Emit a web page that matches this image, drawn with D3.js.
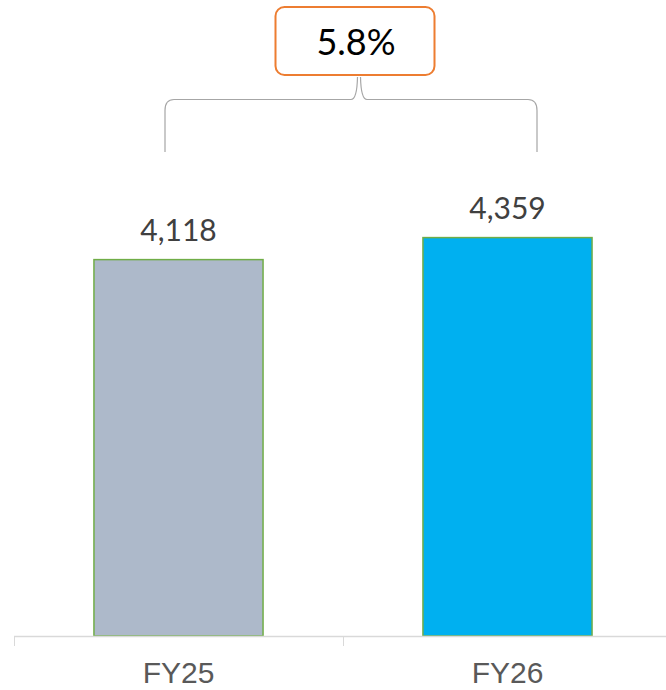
<!DOCTYPE html>
<html>
<head>
<meta charset="utf-8">
<script src="https://cdn.jsdelivr.net/npm/d3@7"></script>
<style>
  html, body { margin: 0; padding: 0; background: #fff; }
  svg { display: block; }
</style>
</head>
<body>
<svg id="chart" width="666" height="690"></svg>
<script>
// Chart data
const categories = ["FY25", "FY26"];
const values = [4118, 4359];
const valueLabels = ["4,118", "4,359"];
const barColors = ["#ADB9CA", "#00B0F0"];
const growthLabel = "5.8%";

const svg = d3.select("#chart");

// Plot area: the band axis runs past the right edge of the window
const x = d3.scaleBand()
  .domain(categories)
  .range([14, 672])
  .paddingInner(0)
  .paddingOuter(0);

const y = d3.scaleLinear()
  .domain([0, 4800])
  .range([636, 636 - 0.0914 * 4800]);

const barW = x.bandwidth() * 0.514;

// Bars
svg.selectAll("rect.bar")
  .data(categories)
  .join("rect")
  .attr("class", "bar")
  .attr("x", d => x(d) + (x.bandwidth() - barW) / 2)
  .attr("y", (d, i) => y(values[i]))
  .attr("width", barW)
  .attr("height", (d, i) => y(0) - y(values[i]))
  .attr("fill", (d, i) => barColors[i])
  .attr("stroke", "#70AD47")
  .attr("stroke-width", 1.5);

// Category axis
const axis = svg.append("g")
  .attr("transform", `translate(0,${y(0)})`)
  .call(d3.axisBottom(x).tickSize(0).tickPadding(0));
axis.select(".domain").remove();
axis.selectAll(".tick text").remove();

svg.append("line")
  .attr("x1", 14).attr("x2", 666)
  .attr("y1", y(0) + 0.5).attr("y2", y(0) + 0.5)
  .attr("stroke", "#D9D9D9").attr("stroke-width", 1.5);

// Tick marks at band boundaries
svg.selectAll("line.tick-mark")
  .data(categories)
  .join("line")
  .attr("class", "tick-mark")
  .attr("x1", d => x(d) + 0.5).attr("x2", d => x(d) + 0.5)
  .attr("y1", y(0)).attr("y2", y(0) + 10)
  .attr("stroke", "#D9D9D9").attr("stroke-width", 1);

svg.selectAll("text.cat")
  .data(categories)
  .join("text")
  .attr("class", "cat")
  .attr("x", d => x(d) + x.bandwidth() / 2)
  .attr("y", 683)
  .attr("text-anchor", "middle")
  .attr("font-family", "'Liberation Sans', Arial, sans-serif")
  .attr("font-size", 30)
  .attr("fill", "#595959")
  .text(d => d);

// Value labels above bars
svg.selectAll("text.val")
  .data(categories)
  .join("text")
  .attr("class", "val")
  .attr("x", d => x(d) + x.bandwidth() / 2)
  .attr("y", (d, i) => y(values[i]) - 19)
  .attr("text-anchor", "middle")
  .attr("font-family", "Lato, 'Open Sans', sans-serif")
  .attr("font-size", 30)
  .attr("fill", "#404040")
  .text((d, i) => valueLabels[i]);

// Bracket linking the two bars
const cx0 = x(categories[0]) + x.bandwidth() / 2;
const cx1 = x(categories[1]) + x.bandwidth() / 2;
const left = cx0 - 13.5, right = cx1 + 29.5;
const tipX = (left + right) / 2 + 8;
const yBottom = 152, yBar = 99.5, yTip = 77;
const r = 9;
const bracket = d3.path();
bracket.moveTo(left, yBottom);
bracket.lineTo(left, yBar + r + 2);
bracket.quadraticCurveTo(left, yBar, left + r, yBar);
bracket.lineTo(tipX - 8, yBar);
bracket.quadraticCurveTo(tipX - 2, yBar, tipX - 1.5, yTip);
bracket.moveTo(tipX + 1.5, yTip);
bracket.quadraticCurveTo(tipX + 2, yBar, tipX + 8, yBar);
bracket.lineTo(right - r, yBar);
bracket.quadraticCurveTo(right, yBar, right, yBar + r + 2);
bracket.lineTo(right, yBottom);
svg.append("path")
  .attr("d", bracket.toString())
  .attr("fill", "none")
  .attr("stroke", "#A6A6A6")
  .attr("stroke-width", 1.2);

// Growth callout box
const boxCx = tipX - 4;
svg.append("rect")
  .attr("x", boxCx - 79.5).attr("y", 7)
  .attr("width", 159).attr("height", 68)
  .attr("rx", 9).attr("ry", 9)
  .attr("fill", "#fff")
  .attr("stroke", "#ED7D31")
  .attr("stroke-width", 2);

svg.append("text")
  .attr("x", boxCx + 1)
  .attr("y", 55)
  .attr("text-anchor", "middle")
  .attr("font-family", "Lato, 'Open Sans', sans-serif")
  .attr("font-size", 36)
  .attr("fill", "#000")
  .text(growthLabel);
</script>
</body>
</html>
